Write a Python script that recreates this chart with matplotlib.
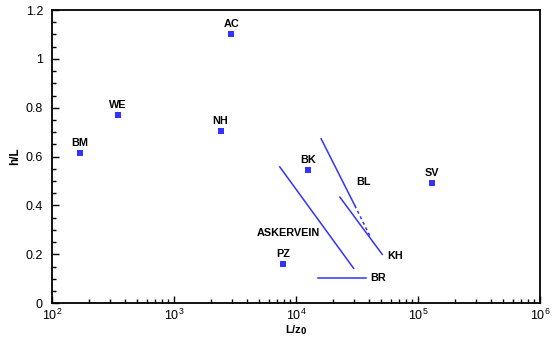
import matplotlib.pyplot as plt
from matplotlib.ticker import LogLocator, MultipleLocator, FixedLocator

plt.rcParams['font.family'] = ['Liberation Sans', 'DejaVu Sans']

# sites shown as points
site_names = ['BM', 'WE', 'AC', 'NH', 'BK', 'PZ', 'SV']
site_x = [169, 345, 2960, 2410, 12500, 7900, 130000]
site_y = [0.616, 0.770, 1.103, 0.705, 0.546, 0.162, 0.493]

# sites shown as ranges (lines)
askervein_x = [7360, 29650]
askervein_y = [0.558, 0.143]
bl_x = [16070, 30340]
bl_y = [0.673, 0.400]
bl_dot_x = [30340, 40450]
bl_dot_y = [0.400, 0.274]
kh_x = [22900, 50900]
kh_y = [0.434, 0.200]
br_x = [15280, 37300]
br_y = [0.103, 0.103]

blue = '#3333ff'
lab = dict(fontsize=7.8, fontweight='bold')

fig = plt.figure(figsize=(5.52, 3.38), dpi=100)
ax = fig.add_axes([0.0942, 0.103, 0.8840, 0.8674])

ax.plot(site_x, site_y, 's', color=blue, markersize=4.5, markeredgewidth=0)
for n, x, y in zip(site_names, site_x, site_y):
    ax.annotate(n, (x, y), xytext=(0, 3.5), textcoords='offset points',
                ha='center', va='bottom', **lab)

ax.plot(askervein_x, askervein_y, color=blue, lw=1.1)
ax.plot(bl_x, bl_y, color=blue, lw=1.1)
ax.plot(bl_dot_x, bl_dot_y, color=blue, lw=1.1, linestyle=(0, (2, 2)))
ax.plot(kh_x, kh_y, color=blue, lw=1.1)
ax.plot(br_x, br_y, color=blue, lw=1.1)

ax.text(8700, 0.287, 'ASKERVEIN', ha='center', va='center', **lab)
ax.text(31000, 0.497, 'BL', ha='left', va='center', **lab)
ax.text(56000, 0.195, 'KH', ha='left', va='center', **lab)
ax.text(41000, 0.103, 'BR', ha='left', va='center', **lab)

ax.set_xscale('log')
ax.set_xlim(1e2, 1e6)
ax.set_ylim(0, 1.2)
ax.xaxis.set_major_locator(LogLocator(base=10))
ax.xaxis.set_minor_locator(LogLocator(base=10, subs=range(2, 10)))
ax.yaxis.set_major_locator(FixedLocator([0, 0.2, 0.4, 0.6, 0.8, 1, 1.2]))
ax.yaxis.set_minor_locator(MultipleLocator(0.05))
ax.set_yticklabels(['0', '0.2', '0.4', '0.6', '0.8', '1', '1.2'])

ax.tick_params(which='both', direction='in', labelsize=9, width=1)
ax.tick_params(axis='y', pad=6.5)
ax.tick_params(axis='x', pad=3)
ax.tick_params(which='major', length=5)
ax.tick_params(which='minor', length=3)
for s in ax.spines.values():
    s.set_linewidth(1.3)

ax.set_xlabel('L/z$_\\mathbf{0}$', fontsize=8, fontweight='bold')
ax.xaxis.set_label_coords(0.5, -0.069)
ax.set_ylabel('h/L', fontsize=8.5, fontweight='bold', labelpad=3)

plt.savefig('out.png', dpi=100)
